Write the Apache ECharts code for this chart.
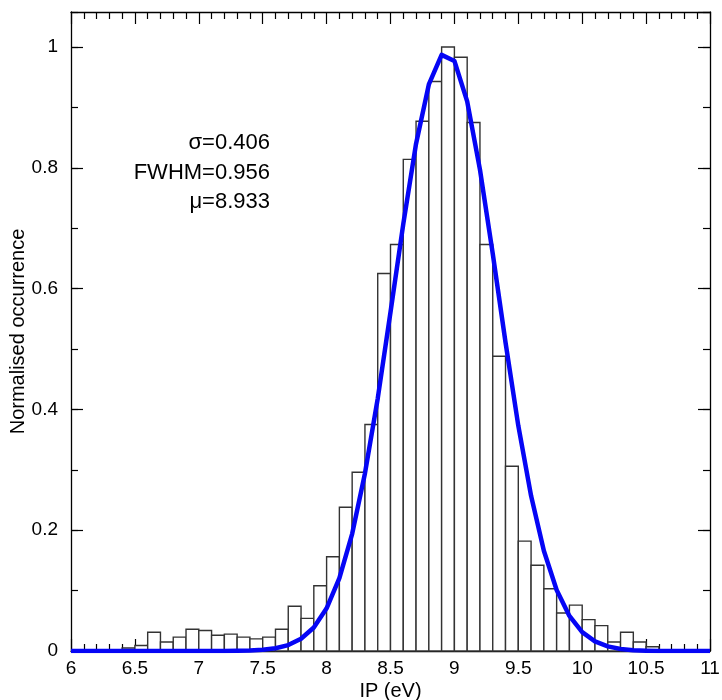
<!DOCTYPE html>
<html>
<head>
<meta charset="utf-8">
<script src="https://cdn.jsdelivr.net/npm/echarts@6/dist/echarts.min.js"></script>
<style>
html,body{margin:0;padding:0;background:#fff;}
#chart{width:722px;height:700px;}
</style>
</head>
<body>
<div id="chart"></div>
<script>
// Bin edges (IP, eV), 0.1 eV bins from 6 to 11
const binEdges = [6.0,6.1,6.2,6.3,6.4,6.5,6.6,6.7,6.8,6.9,7.0,7.1,7.2,7.3,7.4,7.5,7.6,7.7,7.8,7.9,
  8.0,8.1,8.2,8.3,8.4,8.5,8.6,8.7,8.8,8.9,9.0,9.1,9.2,9.3,9.4,9.5,9.6,9.7,9.8,9.9,
  10.0,10.1,10.2,10.3,10.4,10.5,10.6,10.7,10.8,10.9,11.0];
// Normalised occurrence per bin (50 bins)
const occurrence = [0,0,0,0,0.005,0.009,0.031,0.015,0.023,0.036,
  0.034,0.026,0.028,0.023,0.020,0.023,0.036,0.074,0.054,0.108,
  0.156,0.238,0.296,0.375,0.625,0.673,0.814,0.877,0.943,1.0,
  0.983,0.875,0.673,0.488,0.306,0.182,0.142,0.103,0.063,0.076,
  0.052,0.042,0.015,0.031,0.015,0.007,0,0,0,0];
// Fitted curve values read at each bin edge
const fitX = binEdges;
const fitY = [0,0,0,0,0,0,0,0,0,0,
  0,0,0.0001,0.0003,0.0008,0.002,0.0045,0.0098,0.0202,0.0389,
  0.0706,0.1207,0.194,0.294,0.418,0.561,0.707,0.840,0.938,0.987,
  0.977,0.910,0.797,0.658,0.511,0.373,0.257,0.166,0.101,0.058,
  0.0313,0.0159,0.0076,0.0034,0.0014,0.0006,0.0002,0.0001,0,0,0];
const annotations = ['σ=0.406','FWHM=0.956','μ=8.933'];
const xLabelName = 'IP (eV)';
const yLabelName = 'Normalised occurrence';

const FONT = 'Liberation Sans, Arial, Helvetica, sans-serif';
const histData = occurrence.map((v,i)=>[binEdges[i], binEdges[i+1], v]);
const fitData = fitX.map((x,i)=>[x, fitY[i]]);

const YMAX = 1.058;
const axisLineStyle = {color:'#000', width:1.3};

function xAx(pos, labels){
  return {
    type:'value', position:pos, min:6, max:11, interval:0.5,
    axisLine:{show:true, onZero:false, lineStyle:axisLineStyle},
    axisTick:{show:true, inside:true, length:12, lineStyle:{color:'#000', width:1.2}},
    minorTick:{show:true, splitNumber:5, length:7, lineStyle:{color:'#000', width:1.2}},
    splitLine:{show:false}, minorSplitLine:{show:false},
    axisLabel:{show:labels, fontSize:19, color:'#000', fontFamily:FONT, margin:8},
    name: labels ? xLabelName : '', nameLocation:'middle', nameGap:30, nameMoveOverlap:false,
    nameTextStyle:{fontSize:20, color:'#000', fontFamily:FONT}
  };
}
function yAx(pos, major, labels){
  return {
    type:'value', position:pos, min:0, max:YMAX, interval: major?0.2:0.1,
    axisLine:{show:major, onZero:false, lineStyle:axisLineStyle},
    axisTick:{show:true, inside:true, length: major?12:7, lineStyle:{color:'#000', width:1.2}},
    splitLine:{show:false},
    axisLabel:{show:labels, fontSize:19, color:'#000', fontFamily:FONT, margin:13, showMaxLabel:false,
      formatter:(v)=> (Math.abs(v*5-Math.round(v*5))<1e-6 && v<=1.0001) ? String(+v.toFixed(1)) : ''},
    name: labels ? yLabelName : '', nameLocation:'middle', nameGap:43, nameMoveOverlap:false,
    nameTextStyle:{fontSize:20, color:'#000', fontFamily:FONT}
  };
}

const chart = echarts.init(document.getElementById('chart'), null, {renderer:'canvas'});
chart.setOption({
  backgroundColor:'#fff',
  animation:false,
  grid:{left:71, right:12, top:12, bottom:49, containLabel:false, outerBoundsMode:'none'},
  xAxis:[xAx('bottom', true), xAx('top', false)],
  yAxis:[yAx('left', true, true), yAx('left', false, false), yAx('right', true, false), yAx('right', false, false)],
  series:[
    {
      type:'custom', xAxisIndex:0, yAxisIndex:0, z:2,
      data: histData,
      encode:{x:[0,1], y:2},
      renderItem:(params, api)=>{
        const p0 = api.coord([api.value(0), api.value(2)]);
        const p1 = api.coord([api.value(1), 0]);
        return {type:'rect', shape:{x:p0[0], y:p0[1], width:p1[0]-p0[0], height:p1[1]-p0[1]},
          style:{fill:'#fff', stroke:'#333', lineWidth:1.4}};
      }
    },
    {
      type:'line', xAxisIndex:0, yAxisIndex:0, z:5,
      data: fitData, showSymbol:false, symbol:'none', smooth:false,
      lineStyle:{color:'#0505f5', width:4.5, join:'round'}
    }
  ],
  graphic: annotations.map((t,i)=>({
    type:'text', x: 270, y: 143 + i*29.5,
    style:{text:t, font:'22px '+FONT, fill:'#000', textAlign:'right', textVerticalAlign:'middle'}
  }))
});
</script>
</body>
</html>
